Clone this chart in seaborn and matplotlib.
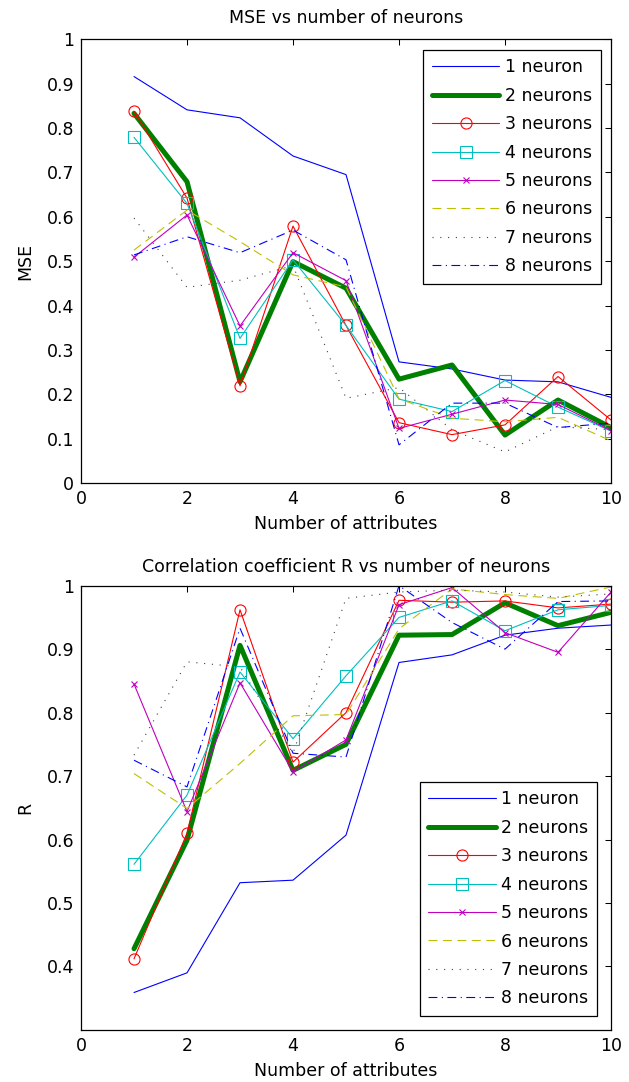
import matplotlib
matplotlib.use("Agg")
import matplotlib.pyplot as plt
import numpy as np
import pandas as pd
import seaborn as sns

# x values: number of attributes
attributes = [1, 2, 3, 4, 5, 6, 7, 8, 9, 10]
labels = ["1 neuron", "2 neurons", "3 neurons", "4 neurons",
          "5 neurons", "6 neurons", "7 neurons", "8 neurons"]

# MSE per number of neurons
mse_1 = [0.916, 0.841, 0.823, 0.737, 0.695, 0.273, 0.257, 0.232, 0.228, 0.193]
mse_2 = [0.833, 0.679, 0.228, 0.499, 0.439, 0.234, 0.266, 0.108, 0.187, 0.125]
mse_3 = [0.838, 0.642, 0.219, 0.579, 0.355, 0.136, 0.109, 0.131, 0.240, 0.142]
mse_4 = [0.779, 0.630, 0.326, 0.503, 0.355, 0.189, 0.161, 0.231, 0.171, 0.117]
mse_5 = [0.509, 0.604, 0.354, 0.519, 0.456, 0.123, 0.155, 0.187, 0.177, 0.118]
mse_6 = [0.525, 0.615, 0.544, 0.469, 0.442, 0.190, 0.146, 0.138, 0.148, 0.095]
mse_7 = [0.597, 0.441, 0.457, 0.490, 0.191, 0.215, 0.120, 0.070, 0.127, 0.120]
mse_8 = [0.514, 0.555, 0.519, 0.570, 0.503, 0.086, 0.180, 0.180, 0.125, 0.135]

# correlation coefficient R per number of neurons
r_1 = [0.359, 0.390, 0.532, 0.536, 0.607, 0.879, 0.891, 0.922, 0.933, 0.938]
r_2 = [0.428, 0.599, 0.906, 0.709, 0.750, 0.922, 0.923, 0.973, 0.937, 0.958]
r_3 = [0.412, 0.610, 0.962, 0.722, 0.800, 0.977, 0.974, 0.976, 0.965, 0.971]
r_4 = [0.561, 0.670, 0.864, 0.759, 0.858, 0.950, 0.976, 0.929, 0.962, 0.969]
r_5 = [0.845, 0.644, 0.847, 0.707, 0.757, 0.970, 0.997, 0.926, 0.895, 0.990]
r_6 = [0.704, 0.649, 0.720, 0.795, 0.797, 0.932, 0.995, 0.986, 0.980, 0.998]
r_7 = [0.733, 0.880, 0.872, 0.736, 0.980, 0.990, 0.993, 0.990, 0.982, 0.987]
r_8 = [0.725, 0.683, 0.933, 0.736, 0.730, 1.000, 0.942, 0.900, 0.975, 0.976]

mse_all = [mse_1, mse_2, mse_3, mse_4, mse_5, mse_6, mse_7, mse_8]
r_all = [r_1, r_2, r_3, r_4, r_5, r_6, r_7, r_8]

# matlab-ish line styles
thin = 0.8
styles = [
    dict(color=(0, 0, 1), linewidth=thin),
    dict(color=(0, 0.5, 0), linewidth=3.6),
    dict(color=(1, 0, 0), linewidth=thin, marker="o", markersize=8,
         markerfacecolor="none", markeredgecolor=(1, 0, 0), markeredgewidth=0.8),
    dict(color=(0, 0.75, 0.75), linewidth=thin, marker="s", markersize=8,
         markerfacecolor="none", markeredgecolor=(0, 0.75, 0.75), markeredgewidth=0.8),
    dict(color=(0.75, 0, 0.75), linewidth=thin, marker="x", markersize=4.5,
         markeredgecolor=(0.75, 0, 0.75), markeredgewidth=0.8),
    dict(color=(0.75, 0.75, 0), linewidth=thin, linestyle=(0, (8, 5))),
    dict(color=(0.25, 0.25, 0.25), linewidth=thin, linestyle=(0, (1, 6))),
    dict(color=(0, 0, 1), linewidth=thin, linestyle=(0, (8, 4, 1, 4))),
]

sns.set_style("white", {"xtick.direction": "in", "ytick.direction": "in",
                        "axes.edgecolor": "black", "text.color": "black",
                        "axes.labelcolor": "black"})
plt.rcParams["font.family"] = ["DejaVu Sans"]
fs = 12.5
plt.rcParams["font.size"] = fs

fig = plt.figure(figsize=(6.29, 10.82), dpi=100)
ax1 = fig.add_axes([0.1288, 0.5536, 0.8426, 0.4101])
ax2 = fig.add_axes([0.1288, 0.0481, 0.8426, 0.4106])


def draw(ax, series, title, ylabel, ylim, yticks, legend_loc, pad, axpad):
    for vals, lab, st in zip(series, labels, styles):
        sns.lineplot(x=attributes, y=vals, ax=ax, label=lab, **st)
    ax.set_xlim(0, 10)
    ax.set_ylim(*ylim)
    ax.set_xticks([0, 2, 4, 6, 8, 10])
    ax.set_xticklabels(["0", "2", "4", "6", "8", "10"])
    ax.set_yticks(yticks)
    ax.set_yticklabels([f"{t:g}" for t in yticks])
    ax.tick_params(direction="in", length=4, width=0.75, top=True, right=True,
                   labelsize=fs, pad=5, colors="black")
    for sp in ax.spines.values():
        sp.set_visible(True)
        sp.set_linewidth(0.9)
        sp.set_color("black")
    ax.set_title(title, fontsize=fs, pad=pad, color="black")
    ax.set_xlabel("Number of attributes", fontsize=fs, labelpad=5)
    ax.set_ylabel(ylabel, fontsize=fs, labelpad=9)
    leg = ax.legend(loc=legend_loc, fontsize=fs, frameon=True, fancybox=False,
                    framealpha=1, edgecolor="black", handlelength=3.9,
                    handletextpad=0.3, labelspacing=0.6, borderpad=0.5,
                    borderaxespad=axpad)
    leg.get_frame().set_linewidth(0.9)


draw(ax1, mse_all, "MSE vs number of neurons", "MSE", (0, 1),
     [0, 0.1, 0.2, 0.3, 0.4, 0.5, 0.6, 0.7, 0.8, 0.9, 1], "upper right", 12, 0.6)
draw(ax2, r_all, "Correlation coefficient R vs number of neurons", "R", (0.3, 1),
     [0.4, 0.5, 0.6, 0.7, 0.8, 0.9, 1], "lower right", 10, 0.8)

fig.savefig("out.png", dpi=100)
